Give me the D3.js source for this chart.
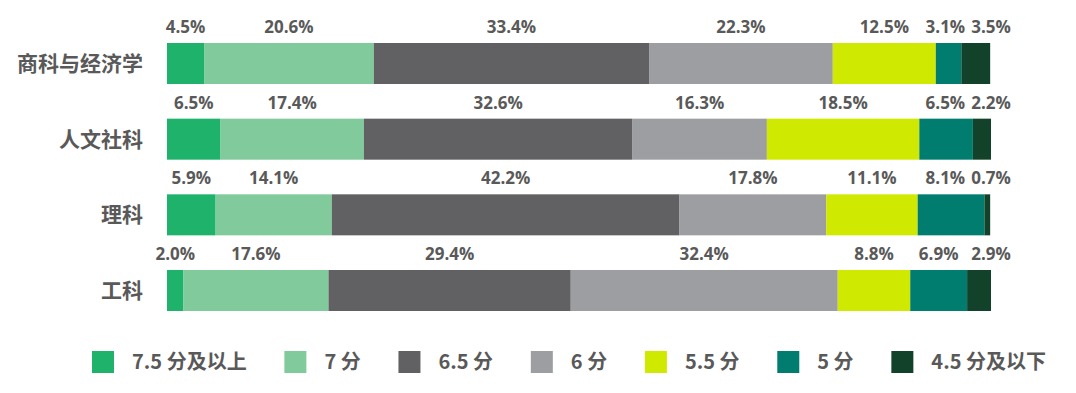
<!DOCTYPE html>
<html>
<head>
<meta charset="utf-8">
<script src="https://cdn.jsdelivr.net/npm/d3@7"></script>
<style>
  body { margin: 0; background: #fff; }
  text { font-family: "Noto Sans CJK SC", "Noto Sans", sans-serif; font-weight: bold; fill: #595959; }
  text.val { font-family: "Open Sans", "Noto Sans", sans-serif; }
</style>
</head>
<body>
<svg width="1076" height="393"></svg>
<script>
const svg = d3.select("svg");

const categories = ["商科与经济学", "人文社科", "理科", "工科"];
const bands = ["7.5 分及以上", "7 分", "6.5 分", "6 分", "5.5 分", "5 分", "4.5 分及以下"];
const colors = ["#1fb26b", "#80ca9b", "#616163", "#9d9ea1", "#d0e900", "#007d6f", "#13422a"];

// percent per score band, one array per category
const business = [4.5, 20.6, 33.4, 22.3, 12.5, 3.1, 3.5];
const humanities = [6.5, 17.4, 32.6, 16.3, 18.5, 6.5, 2.2];
const science = [5.9, 14.1, 42.2, 17.8, 11.1, 8.1, 0.7];
const engineering = [2.0, 17.6, 29.4, 32.4, 8.8, 6.9, 2.9];
const values = [business, humanities, science, engineering];

const x = d3.scaleLinear().domain([0, 100]).range([167, 991]);
const y = d3.scaleBand().domain(categories).range([43, 311]).paddingInner(0.458);

const rows = categories.map((c, i) => {
  let acc = 0;
  const segs = values[i].map((v, j) => {
    const s = { cat: c, band: j, v, x0: acc, x1: acc + v };
    acc += v;
    return s;
  });
  return { cat: c, segs };
});

const row = svg.selectAll("g.row")
  .data(rows)
  .join("g")
  .attr("class", "row");

row.selectAll("rect")
  .data(d => d.segs)
  .join("rect")
  .attr("x", d => x(d.x0))
  .attr("width", d => x(d.x1) - x(d.x0))
  .attr("y", d => y(d.cat))
  .attr("height", y.bandwidth())
  .attr("fill", d => colors[d.band]);

// category labels
svg.selectAll("text.cat")
  .data(categories)
  .join("text")
  .attr("class", "cat")
  .attr("x", 143)
  .attr("y", d => y(d) + y.bandwidth() / 2)
  .attr("dy", "0.35em")
  .attr("text-anchor", "end")
  .attr("font-size", 21)
  .text(d => d);

// value labels above each segment, last one sits at bar end, then pushed left so they don't overlap
row.each(function (r) {
  const g = d3.select(this);
  const labels = g.selectAll("text.val")
    .data(r.segs)
    .join("text")
    .attr("class", "val")
    .attr("text-anchor", "middle")
    .attr("font-size", 17)
    .attr("y", d => y(d.cat) - 10)
    .text(d => d.v.toFixed(1) + "%");

  const nodes = labels.nodes();
  const w = nodes.map(n => n.getComputedTextLength());
  const pos = r.segs.map(d => x((d.x0 + d.x1) / 2));
  pos[pos.length - 1] = x(100);
  for (let k = pos.length - 2; k >= 0; k--) {
    const maxPos = pos[k + 1] - w[k + 1] / 2 - w[k] / 2 - 6;
    if (pos[k] > maxPos) pos[k] = maxPos;
  }
  labels.attr("x", (d, k) => pos[k]);
});

// legend
const legend = svg.append("g").attr("class", "legend");
const items = legend.selectAll("g")
  .data(bands)
  .join("g");

items.append("rect")
  .attr("width", 22)
  .attr("height", 22)
  .attr("y", 351)
  .attr("fill", (d, i) => colors[i]);

items.append("text")
  .attr("x", 40)
  .attr("y", 362)
  .attr("dy", "0.35em")
  .attr("font-size", 20)
  .text(d => d);

const tw = items.select("text").nodes().map(n => n.getComputedTextLength());
const legStart = 92, legEnd = 1046;
const gap = (legEnd - legStart - d3.sum(tw, t => t + 40)) / (bands.length - 1);
let cx = legStart;
items.attr("transform", (d, i) => {
  const t = `translate(${cx},0)`;
  cx += 40 + tw[i] + gap;
  return t;
});
</script>
</body>
</html>
